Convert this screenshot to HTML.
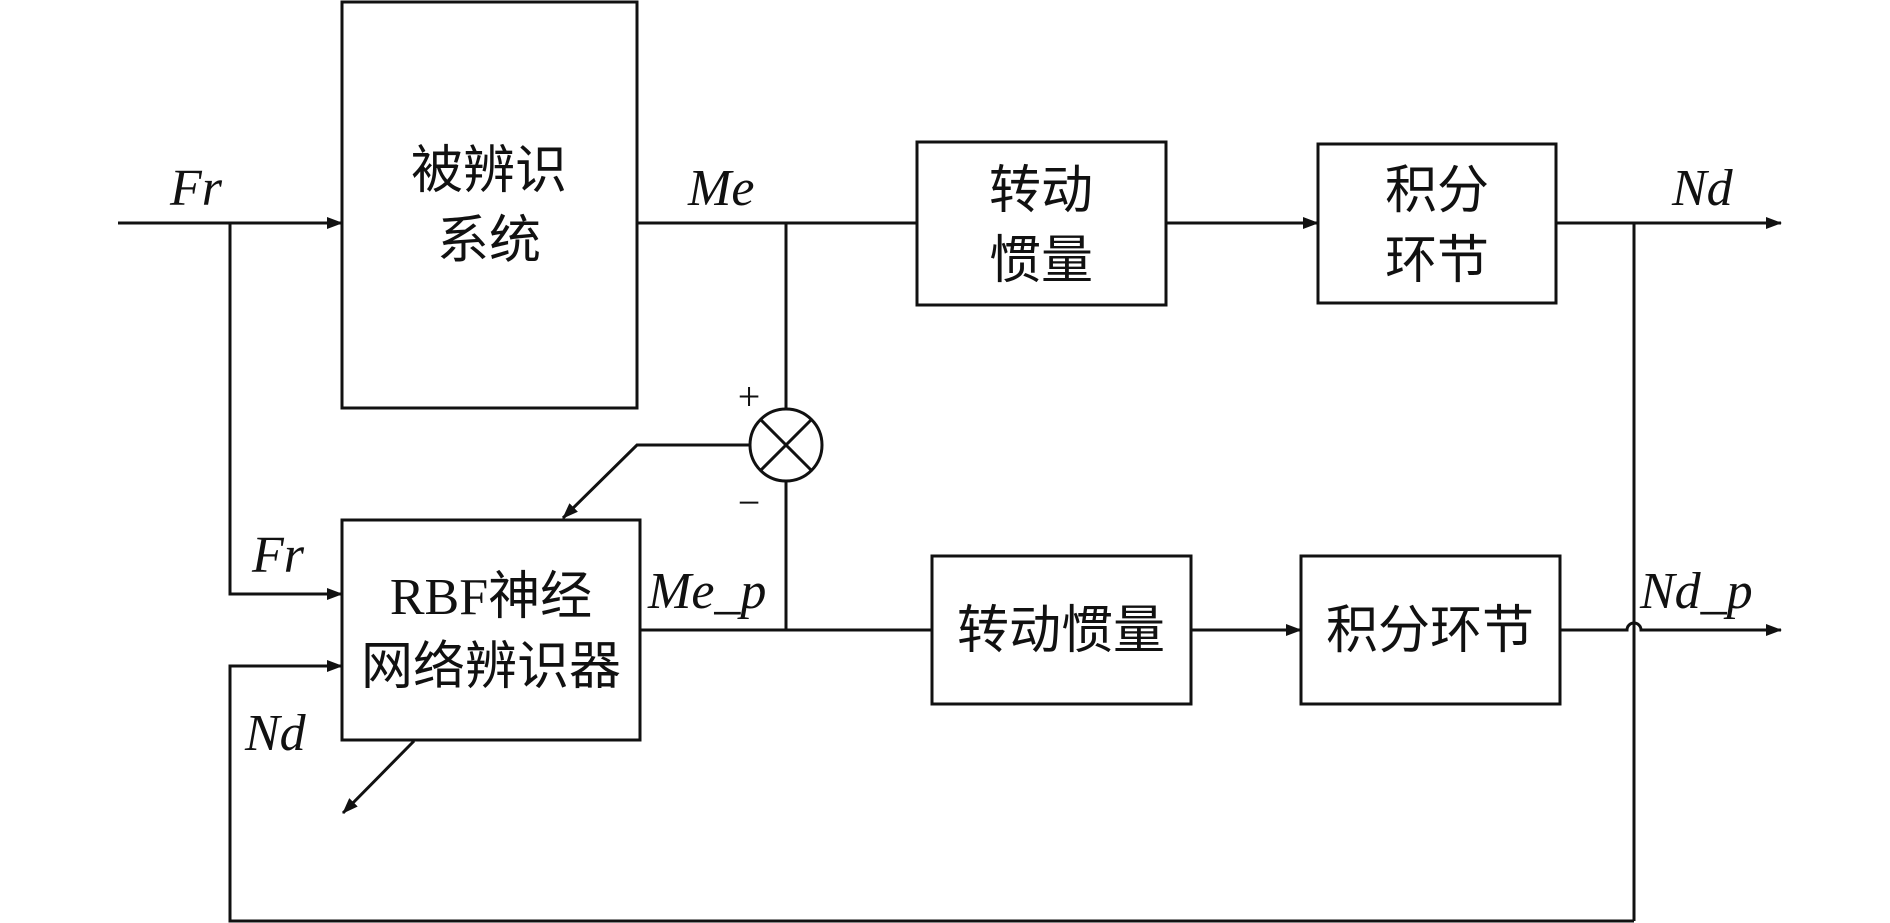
<!DOCTYPE html>
<html><head><meta charset="utf-8"><style>
html,body{margin:0;padding:0;background:#fff;}
svg{display:block;}
text{font-family:"Liberation Serif","Noto Serif CJK SC","Noto Sans CJK SC",serif;fill:#111;}
.cn{font-family:"Liberation Serif","Noto Sans CJK SC",sans-serif;font-size:52px;}
.it{font-style:italic;font-size:52px;}
</style></head><body>
<svg width="1890" height="923" viewBox="0 0 1890 923" xmlns="http://www.w3.org/2000/svg">
<defs><marker id="a" markerWidth="10" markerHeight="10" refX="9" refY="5" orient="auto" markerUnits="userSpaceOnUse"><path d="M0,0 L14,5 L0,10 Z" fill="#111" transform="scale(0.7,1)"/></marker>
<marker id="b" markerWidth="16" markerHeight="12" refX="15" refY="6" orient="auto" markerUnits="userSpaceOnUse"><path d="M0,0 L16,6 L0,12 Z" fill="#111"/></marker></defs>
<g stroke="#111" stroke-width="3" fill="none">
<rect x="342" y="2" width="295" height="406"/>
<rect x="917" y="142" width="249" height="163"/>
<rect x="1318" y="144" width="238" height="159"/>
<rect x="342" y="520" width="298" height="220"/>
<rect x="932" y="556" width="259" height="148"/>
<rect x="1301" y="556" width="259" height="148"/>
<line x1="118" y1="223" x2="342" y2="223" marker-end="url(#b)"/>
<line x1="637" y1="223" x2="917" y2="223"/>
<line x1="1166" y1="223" x2="1318" y2="223" marker-end="url(#b)"/>
<line x1="1556" y1="223" x2="1781" y2="223" marker-end="url(#b)"/>
<line x1="786" y1="223" x2="786" y2="409"/>
<circle cx="786" cy="445" r="36"/>
<line x1="760" y1="419" x2="812" y2="471"/><line x1="812" y1="419" x2="760" y2="471"/>
<line x1="786" y1="481" x2="786" y2="630"/>
<polyline points="750,445 637,445 563,518" marker-end="url(#b)"/>
<line x1="640" y1="630" x2="932" y2="630"/>
<line x1="1191" y1="630" x2="1301" y2="630" marker-end="url(#b)"/>
<path d="M1560,630 H1627 A7,7 0 0 1 1641,630 H1781" marker-end="url(#b)"/>
<line x1="1634" y1="223" x2="1634" y2="921"/>
<polyline points="1634,921 230,921 230,666 342,666" marker-end="url(#b)"/>
<polyline points="230,223 230,594 342,594" marker-end="url(#b)"/>
<line x1="414" y1="741" x2="343" y2="813" marker-end="url(#b)"/>
</g>
<text class="cn" x="489" y="188" text-anchor="middle">被辨识</text>
<text class="cn" x="489" y="258" text-anchor="middle">系统</text>
<text class="cn" x="1041" y="208" text-anchor="middle">转动</text>
<text class="cn" x="1041" y="278" text-anchor="middle">惯量</text>
<text class="cn" x="1437" y="208" text-anchor="middle">积分</text>
<text class="cn" x="1437" y="278" text-anchor="middle">环节</text>
<text class="cn" x="491" y="614" text-anchor="middle">RBF神经</text>
<text class="cn" x="491" y="684" text-anchor="middle">网络辨识器</text>
<text class="cn" x="1061" y="648" text-anchor="middle">转动惯量</text>
<text class="cn" x="1430" y="648" text-anchor="middle">积分环节</text>
<text class="it" x="170" y="205">Fr</text>
<text class="it" x="688" y="205">Me</text>
<text class="it" x="1672" y="205">Nd</text>
<text class="it" x="252" y="572">Fr</text>
<text class="it" x="648" y="608">Me_p</text>
<text class="it" x="1640" y="608">Nd_p</text>
<text class="it" x="245" y="750">Nd</text>
<text x="749" y="410" font-size="40" text-anchor="middle">+</text>
<text x="749" y="516" font-size="40" text-anchor="middle">−</text>
</svg>
</body></html>
